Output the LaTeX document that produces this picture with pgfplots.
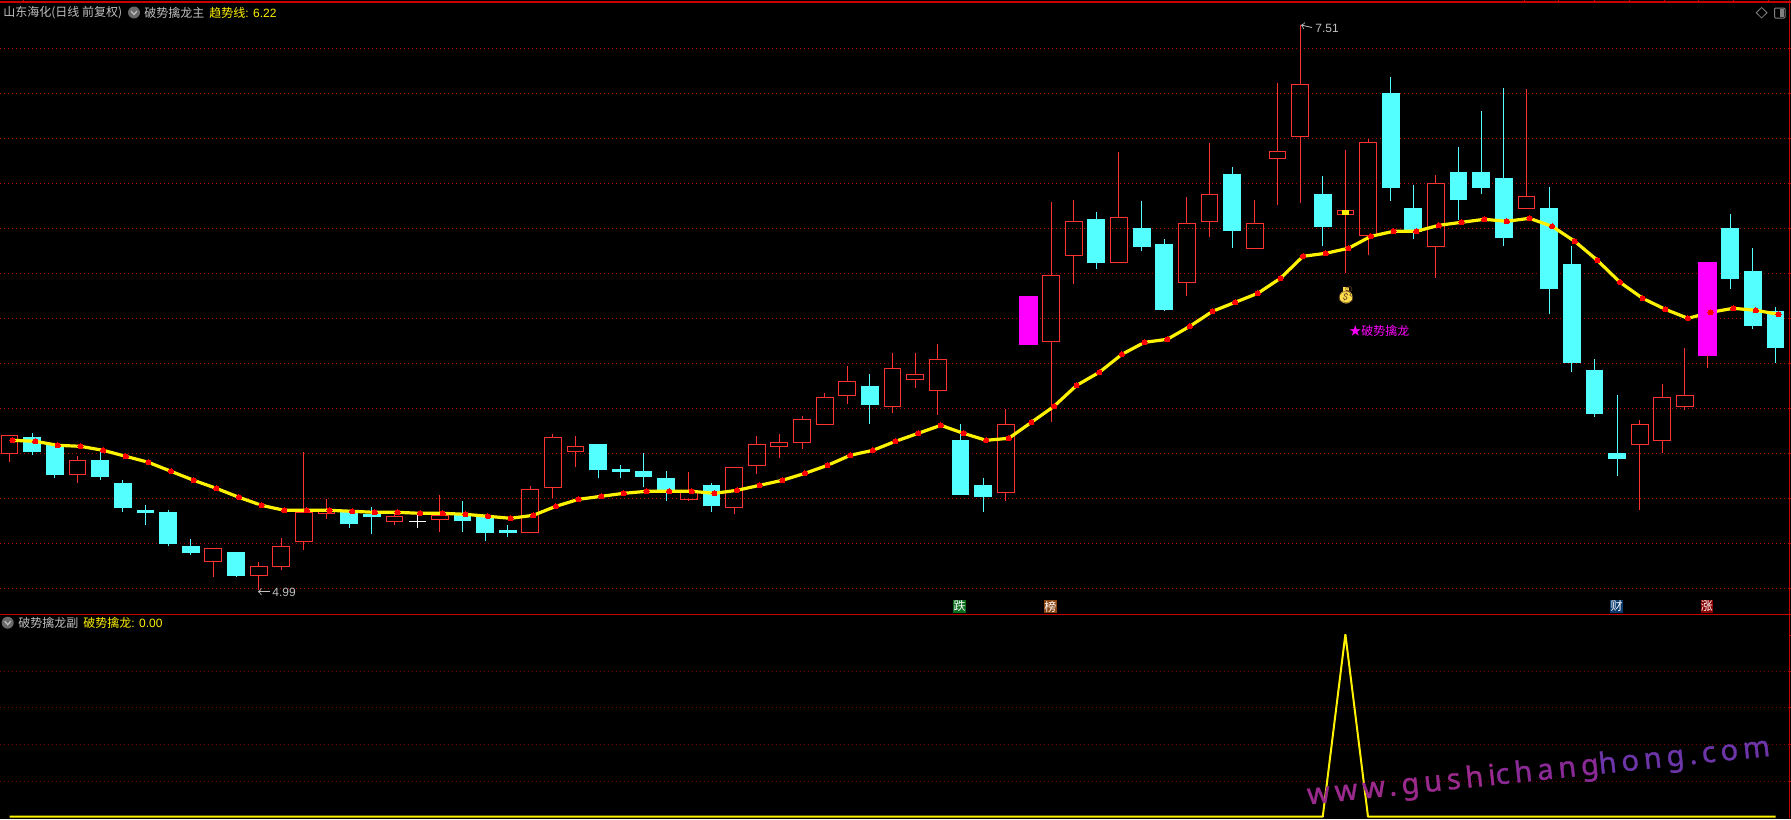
\documentclass[border=0pt]{standalone}
\usepackage{fontspec}
\setmainfont{Liberation Sans}
\newfontfamily\cjk{Noto Sans CJK SC}
\newfontfamily\emoji{Noto Emoji}
\newfontfamily\wmfont[LetterSpace=17,FakeBold=1.2]{Noto Sans}
\usepackage{pgfplots}
\usepgfplotslibrary{statistics}
\pgfplotsset{compat=1.18}

\definecolor{upred}{HTML}{FF3232}
\definecolor{dncyan}{HTML}{54FFFF}
\definecolor{hot}{HTML}{FF00FF}
\definecolor{frame}{HTML}{C80000}
\definecolor{gridup}{HTML}{B00000}
\definecolor{griddn}{HTML}{800000}
\definecolor{txt}{HTML}{C0C0C0}
\definecolor{knob}{HTML}{6A6A6A}
\definecolor{badgegreen}{HTML}{0A6E1E}
\definecolor{badgebrown}{HTML}{8B4513}
\definecolor{badgeblue}{HTML}{0B3A6E}
\definecolor{badgered}{HTML}{8B0000}

% 1 pixel of the screenshot = 0.5pt. Prices are kept as screen rows (y grows down):
% price = 4.99 + (590 - row) * 0.00446, checked on 7.51 (row 25) and 6.22 (row 314)
% #2 index, #3 high, #4 body top, #5 body bottom, #6 low
\newcommand\kbar[6][]{\addplot[boxplot/draw direction=y,boxplot prepared={draw position=#2,
    lower whisker=#3,lower quartile=#4,median=#4,upper quartile=#5,upper whisker=#6},#1]
    coordinates {};}
\newcommand\up[5]{\kbar[draw=upred,line width=.5pt,boxplot/box extend=.74,boxplot/whisker extend=0]{#1}{#2}{#3}{#4}{#5}}
\newcommand\dn[5]{\kbar[draw=dncyan,fill=dncyan,line width=.5pt,boxplot/box extend=.74,boxplot/whisker extend=0]{#1}{#2}{#3}{#4}{#5}}
\newcommand\doji[5]{\kbar[draw=white,line width=.5pt,boxplot/box extend=.7,boxplot/whisker extend=0]{#1}{#2}{#3}{#4}{#5}}
\newcommand\hotbar[5]{\kbar[draw=hot,fill=hot,line width=.5pt,boxplot/box extend=.82,boxplot/whisker extend=0]{#1}{#2}{#3}{#4}{#5}}

\pgfplotsset{panel/.style={
    scale only axis,width=895.5pt,xmin=-0.424,xmax=78.684,
    axis line style={draw=none},tick style={draw=none},
    major tick length=0pt,xtick=\empty,yticklabels={},
    ymajorgrids,clip=true}}

\begin{document}
\begin{tikzpicture}
\useasboundingbox (0,0) rectangle (895.5pt,-409.5pt);
\fill[black] (0,0) rectangle (895.5pt,-409.5pt);

\begin{axis}[panel,at={(0,0)},anchor=north west,height=307.15pt,
    y dir=reverse,ymin=0,ymax=614.3,
    ytick={48.3,93.3,138.3,183.3,228.3,273.3,318.3,363.3,408.3,453.3,498.3,543.3,588.3},
    grid style={gridup,line width=.5pt,dash pattern=on .5pt off 1.5pt}]
% index, high, top, bottom, low
\up{0}{435.3}{435.3}{453.7}{462}
\dn{1}{433.3}{437}{451}{455}
\dn{2}{445}{445}{474}{478}
\up{3}{456}{460.3}{474.7}{482.7}
\dn{4}{451.7}{460}{476}{480}
\dn{5}{480}{483}{507}{511.7}
\dn{6}{505}{510}{512}{525}
\dn{7}{510}{512}{543}{545.7}
\dn{8}{539}{546}{552}{555}
\up{9}{548.3}{548.3}{561.7}{576.7}
\dn{10}{552}{552}{575}{577}
\up{11}{562}{566.3}{575.7}{590}
\up{12}{538}{546.3}{566.7}{570}
\up{13}{452}{512.3}{541.7}{550}
\up{14}{499}{510.5}{513}{519}
\dn{15}{512.7}{512.7}{523}{528}
\dn{16}{507}{514}{516}{534}
\up{17}{513}{516.3}{521.7}{525}
\doji{18}{515}{521.3}{521.7}{528}
\up{19}{495}{515}{519.7}{532}
\dn{20}{501}{515}{520.7}{532}
\dn{21}{516.7}{516.7}{532}{541}
\dn{22}{525}{530}{532}{537}
\up{23}{486}{489.3}{532.7}{532.7}
\up{24}{434}{437.3}{487.7}{498}
\up{25}{436}{446.3}{451.7}{467}
\dn{26}{444}{444}{469}{478}
\dn{27}{465}{469}{471}{478}
\dn{28}{453}{471}{476}{487}
\dn{29}{471}{478}{489}{501}
\up{30}{472}{490.3}{499}{501}
\dn{31}{483}{485}{505}{512}
\up{32}{467.3}{467.3}{507.7}{514}
\up{33}{436}{444.3}{465.7}{474}
\up{34}{434}{442.3}{446.7}{458}
\up{35}{416}{419.3}{442.7}{449}
\up{36}{393}{397.3}{424.7}{424.7}
\up{37}{366}{381.3}{395.7}{404}
\dn{38}{374}{386}{404}{424}
\up{39}{353}{368.3}{406.7}{413}
\up{40}{353}{374.3}{379.7}{388}
\up{41}{344}{359.3}{390.7}{415}
\dn{42}{424}{440}{494}{494}
\dn{43}{478}{485}{496}{512}
\up{44}{408.7}{424.3}{492.7}{501}
\up{46}{202}{275.3}{341.7}{422}
\up{47}{200}{221.3}{255.7}{284}
\dn{48}{212}{219}{262}{269}
\up{49}{152}{217.3}{262.7}{262.7}
\dn{50}{201}{228}{246}{251}
\dn{51}{239}{244}{309}{311}
\up{52}{197}{223.3}{282.7}{296}
\up{53}{143}{194.3}{221.7}{237}
\dn{54}{167}{174}{230}{248}
\up{55}{200}{223.3}{248.7}{248.7}
\up{56}{83}{151.3}{158.7}{204.7}
\up{57}{25}{84.3}{136.7}{202.7}
\dn{58}{176}{194}{226}{246}
\up{59}{150}{210.3}{214.7}{273.3}
\up{60}{139.3}{142.3}{235.7}{255}
\dn{61}{77}{93}{187}{201}
\dn{62}{185}{208}{231}{239}
\up{63}{175}{183.3}{246.7}{278}
\dn{64}{147}{172}{199}{220}
\dn{65}{111}{172}{187}{194}
\dn{66}{88}{178}{237}{246}
\up{67}{89}{196.3}{208.7}{208.7}
\dn{68}{187}{208}{288.7}{314}
\dn{69}{246}{264}{362.7}{371.7}
\dn{70}{359}{370}{413}{417}
\dn{71}{395}{453}{458}{476}
\up{72}{420}{424.3}{444.7}{510}
\up{73}{384}{397.3}{440.7}{453}
\up{74}{348}{395.3}{406.7}{410}
\dn{76}{214}{228}{278}{289}
\dn{77}{248}{271}{325}{329}
\dn{78}{307}{311}{347}{363}
% the small yellow block inside the doji at index 59
\addplot[draw=yellow,fill=yellow,boxplot/draw direction=y,boxplot prepared={draw position=59,lower whisker=210.5,
    lower quartile=210.5,median=210.5,upper quartile=214.5,upper whisker=214.5},
    boxplot/box extend=.3,boxplot/whisker extend=0] coordinates {};

% trend line
\addplot[yellow,line width=1.6pt,line join=round,mark=*,mark size=1.3pt,
    mark options={draw=red,fill=red,line width=0pt}] coordinates {
(0.13,440.3)(1.13,441.3)(2.13,445.3)(3.13,446.3)(4.13,450.3)(5.13,456.3)(6.13,462.3)(7.13,471.3)
(8.13,480.3)(9.13,488.3)(10.13,497.3)(11.13,505.3)(12.13,510.3)(13.13,510.3)(14.13,510.3)(15.13,511.3)
(16.13,512.3)(17.13,512.3)(18.13,513.3)(19.13,513.3)(20.13,514.3)(21.13,516.3)(22.13,518.3)(23.13,515.3)
(24.13,506.3)(25.13,499.3)(26.13,496.3)(27.13,493.3)(28.13,491.3)(29.13,491.3)(30.13,491.3)(31.13,493.3)
(32.13,490.3)(33.13,485.3)(34.13,480.3)(35.13,473.3)(36.13,465.3)(37.13,455.3)(38.13,450.3)(39.13,441.3)
(40.13,433.3)(41.13,425.3)(42.13,433.3)(43.13,440.3)(44.13,438.3)(45.13,422.3)(46.13,406.3)(47.13,385.3)
(48.13,372.3)(49.13,354.3)(50.13,342.3)(51.13,339.3)(52.13,326.3)(53.13,311.3)(54.13,302.3)(55.13,293.3)
(56.13,278.3)(57.13,256.3)(58.13,253.3)(59.13,248.3)(60.13,236.3)(61.13,231.3)(62.13,231.3)(63.13,225.3)
(64.13,222.3)(65.13,219.3)(66.13,221.3)(67.13,218.3)(68.13,226.3)(69.13,241.3)(70.13,260.3)(71.13,282.3)
(72.13,298.3)(73.13,309.3)(74.13,318.3)(75.13,312.3)(76.13,308.3)(77.13,310.3)(78.13,314.3)};

% solid magenta days sit over the line
\hotbar{45}{296}{296}{344}{344}
\hotbar{75}{262}{262}{355}{355}
\addplot[upred,line width=.5pt] coordinates {(75,355)(75,368)};
\end{axis}

\begin{axis}[panel,at={(0,-307.15pt)},anchor=north west,height=102.35pt,
    ymin=-1.26,ymax=110.96,ytick={19.41,39.69,59.98,79.71},
    grid style={griddn,line width=.5pt,dash pattern=on .5pt off 1.5pt}]
\addplot[yellow,line width=1pt,line join=bevel] coordinates {
(0,0)(58,0)(59,100)(60,0)(78,0)};
\end{axis}

\begin{scope}[x=0.5pt,y=-0.5pt,every node/.style={inner sep=0pt,font=\fontsize{6}{7}\selectfont}]
% frame
\draw[frame,line width=1pt] (0,2.3)--(1791,2.3);
\draw[frame,line width=.75pt] (0,614.3)--(1791,614.3);
\draw[frame,line width=.5pt] (1789.7,0)--(1789.7,819);
\foreach \x in {23,1524,1558,1594,1629,1664,1698,1733,1768}
  \draw[frame,line width=.5pt] (\x,0)--(\x,3);
\foreach \y in {48.3,93.3,138.3,183.3,228.3,273.3,318.3,363.3,408.3,453.3,498.3,543.3,588.3,635,671.3,707.3,744.3,781.3}
  \draw[frame,line width=.5pt] (1789,\y)--(1791,\y);

% header of the upper panel
\node[anchor=west,text=txt] at (3,12.5) {\cjk 山东海化(日线 前复权)};
\fill[knob] (134,12.5) circle (6);
\draw[txt,line width=.6pt] (131,11)--(134,14.5)--(137,11);
\node[anchor=west,text=txt] at (144,12.5) {\cjk 破势擒龙主};
\node[anchor=west,text=yellow] at (209,12.5) {\cjk 趋势线\rmfamily: 6.22};
% top right buttons
\draw[gray,line width=.4pt] (1761.6,7.5)--(1767,12.7)--(1761.6,18)--(1756.2,12.7)--cycle;
\draw[gray,line width=.5pt,rounded corners=.5pt] (1774.5,8)rectangle(1785,18);
\fill[gray] (1779.7,9) rectangle (1784,17);

% header of the lower panel
\fill[knob] (7.7,622.7) circle (6);
\draw[txt,line width=.6pt] (4.7,621.2)--(7.7,624.7)--(10.7,621.2);
\node[anchor=west,text=txt] at (18,623) {\cjk 破势擒龙副};
\node[anchor=west,text=yellow] at (83,623) {\cjk 破势擒龙\rmfamily: 0.00};

% high and low marks
\draw[txt,line width=.4pt,->,>=to] (1312,27.5)--(1301,25);
\node[anchor=west,text=txt] at (1315,28.5) {7.51};
\draw[txt,line width=.4pt,->,>=to] (270,591.7)--(258,591.7);
\node[anchor=west,text=txt] at (272,592.7) {4.99};

% signal label and money bag
\node[anchor=west,text=hot] at (1349,331) {\cjk ★破势擒龙};
\fill[yellow!70!orange!70] (1346,297) circle (6.5);
\fill[yellow!70!orange!70] (1343,287) rectangle (1349,292);
\node[text=brown!60!black] at (1346,295) {\emoji\fontsize{8}{8}\selectfont 💰};

% event badges
\fill[badgegreen] (953,600) rectangle (966,612.7);
\node[text=white] at (959.5,606.4) {\cjk 跌};
\fill[badgebrown] (1044,600) rectangle (1056.5,612.7);
\node[text=white] at (1050.3,606.4) {\cjk 榜};
\fill[badgeblue] (1610,600) rectangle (1623,612.7);
\node[text=white] at (1616.5,606.4) {\cjk 财};
\fill[badgered] (1700.6,600) rectangle (1713,612.7);
\node[text=white] at (1706.8,606.4) {\cjk 涨};

% watermark: one node, tinted from magenta to violet
\node[anchor=west,rotate=6] at (1307,797) {\wmfont\fontsize{14.5}{15}\selectfont\color[HTML]{9A2A8C}www.gushi\color[HTML]{8A2A96}chang\color[HTML]{6C35A8}hong.com};
\end{scope}
\end{tikzpicture}
\end{document}
